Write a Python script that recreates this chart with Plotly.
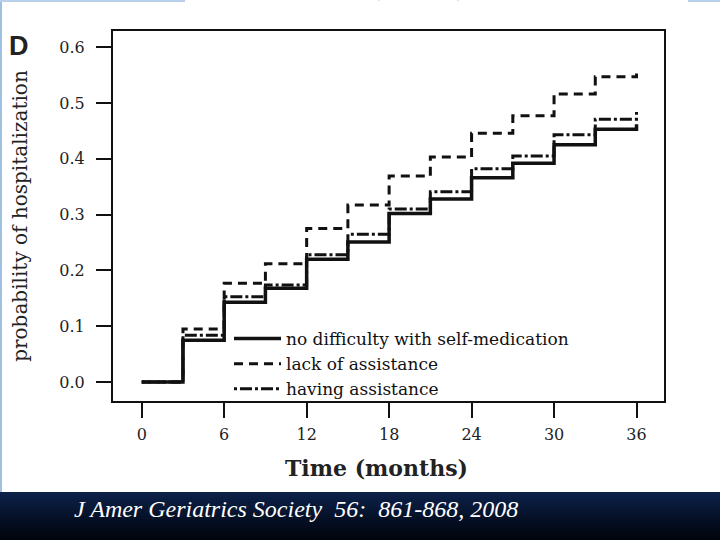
import plotly.graph_objects as go

# ---- data ----
months = [0, 3, 6, 9, 12, 15, 18, 21, 24, 27, 30, 33, 36]
no_difficulty = [0.0, 0.075, 0.143, 0.168, 0.220, 0.251, 0.302, 0.328, 0.366, 0.392, 0.425, 0.453, 0.462]
lack_of_assistance = [0.0, 0.095, 0.177, 0.212, 0.275, 0.317, 0.369, 0.403, 0.446, 0.477, 0.516, 0.547, 0.553]
having_assistance = [0.0, 0.084, 0.153, 0.174, 0.228, 0.265, 0.310, 0.341, 0.382, 0.405, 0.443, 0.471, 0.484]

series_names = ["no difficulty with self-medication", "lack of assistance", "having assistance"]
x_ticks = [0, 6, 12, 18, 24, 30, 36]
y_ticks = [0.0, 0.1, 0.2, 0.3, 0.4, 0.5, 0.6]
y_ticklabels = ["0.0", "0.1", "0.2", "0.3", "0.4", "0.5", "0.6"]

SERIF = "DejaVu Serif"
INK = "#111111"

fig = go.Figure()
fig.add_trace(go.Scatter(x=months, y=no_difficulty, mode="lines", line_shape="hv",
                         name=series_names[0], line=dict(color=INK, width=3.5)))
fig.add_trace(go.Scatter(x=months, y=lack_of_assistance, mode="lines", line_shape="hv",
                         name=series_names[1], line=dict(color=INK, width=3, dash="9px,6px")))
fig.add_trace(go.Scatter(x=months, y=having_assistance, mode="lines", line_shape="hv",
                         name=series_names[2], line=dict(color=INK, width=3, dash="3px,3px,12px,3px")))

W, H = 720, 540
L, R, T, B = 113, 56, 31, 139
pw, ph = W - L - R, H - T - B

def px(x):
    return (x - L) / pw

def py(y):
    return (H - B - y) / ph

fig.update_layout(
    width=W, height=H,
    margin=dict(l=L, r=R, t=T, b=B, pad=0, autoexpand=False),
    paper_bgcolor="white", plot_bgcolor="white",
    font=dict(family=SERIF, color=INK),
    showlegend=True,
    legend=dict(x=px(229), y=py(321), xanchor="left", yanchor="top",
                traceorder="normal", bgcolor="rgba(0,0,0,0)",
                font=dict(family=SERIF, size=17, color=INK),
                itemwidth=47, tracegroupgap=0),
    xaxis=dict(range=[-2.09, 38.0], tickvals=x_ticks, showgrid=False, zeroline=False,
               showline=True, linecolor=INK, linewidth=2, mirror=True,
               ticks="outside", ticklen=15, tickwidth=2, tickcolor=INK,
               ticklabelstandoff=3,
               tickfont=dict(family=SERIF, size=16, color="#222")),
    yaxis=dict(range=[-0.034, 0.629], tickvals=y_ticks, ticktext=y_ticklabels, showgrid=False,
               zeroline=False, showline=True, linecolor=INK, linewidth=2, mirror=True,
               ticks="outside", ticklen=15, tickwidth=2, tickcolor=INK,
               ticklabelstandoff=8,
               tickfont=dict(family=SERIF, size=16, color="#222"),
               title=dict(text="probability of hospitalization", font=dict(family=SERIF, size=20, color="#222"),
                          standoff=26)),
)

# x-axis title (slightly left of centre, as in the reference)
fig.add_annotation(text="<b>Time (months)</b>", x=px(376), y=py(468), xref="paper", yref="paper",
                   xanchor="center", yanchor="middle", showarrow=False,
                   font=dict(family=SERIF, size=22, color="#222"))

# panel letter
fig.add_annotation(text="<b>D</b>", x=px(19), y=py(46), xref="paper", yref="paper",
                   xanchor="center", yanchor="middle",
                   showarrow=False, font=dict(family="Liberation Sans", size=27, color="#222"))

# faint cut-off text at top of slide
fig.add_annotation(text="Time (months)", x=px(390), y=py(5), xref="paper", yref="paper",
                   xanchor="center", yanchor="bottom", showarrow=False,
                   font=dict(family=SERIF, size=20, color="#d0d0d0"))

# dark slide band at bottom with vertical gradient
n = 16
top_c, bot_c = (12, 32, 72), (0, 4, 12)
y0, y1 = 492, 540
for i in range(n):
    t = i / (n - 1)
    c = tuple(int(round(top_c[k] + (bot_c[k] - top_c[k]) * t)) for k in range(3))
    ya = y0 + (y1 - y0) * i / n
    yb = y0 + (y1 - y0) * (i + 1) / n + 0.5
    fig.add_shape(type="rect", xref="paper", yref="paper", x0=px(0), x1=px(W),
                  y0=py(ya), y1=py(yb), line=dict(width=0),
                  fillcolor="rgb(%d,%d,%d)" % c, layer="above")

# thin light-blue slide edges
fig.add_shape(type="line", xref="paper", yref="paper", x0=px(1), x1=px(1), y0=py(0), y1=py(492),
              line=dict(color="#9fc0e0", width=2))
fig.add_shape(type="line", xref="paper", yref="paper", x0=px(0), x1=px(185), y0=py(1), y1=py(1),
              line=dict(color="#b8d0ea", width=2))
fig.add_shape(type="line", xref="paper", yref="paper", x0=px(688), x1=px(720), y0=py(1), y1=py(1),
              line=dict(color="#b8d0ea", width=2))

fig.add_annotation(text="J Amer Geriatrics Society  56:  861-868, 2008", x=px(72), y=py(509),
                   xref="paper", yref="paper", xanchor="left", yanchor="middle", showarrow=False,
                   font=dict(family="Liberation Serif", size=24, color="white", style="italic"))

fig.write_html("out.html",
               config={"displayModeBar": False},
               post_script="document.body.style.margin='0';document.body.style.padding='0';"
                           "document.body.style.overflow='hidden';")
